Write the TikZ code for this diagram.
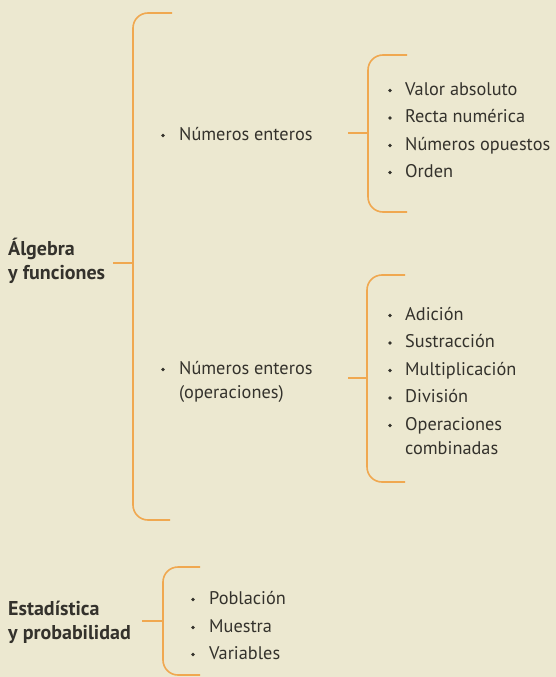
\documentclass[tikz,border=0pt]{standalone}
\usepackage{fontspec}
\setmainfont{PT Sans}
\definecolor{bg}{RGB}{236,232,208}
\definecolor{brk}{RGB}{240,168,80}
\definecolor{txt}{RGB}{52,50,44}
\tikzset{
  brace/.style={draw=brk,line width=1.6pt,rounded corners=15pt},
  tick/.style={draw=brk,line width=1.6pt},
  item/.style={anchor=base west,inner sep=0pt,text=txt,font=\fontsize{18.3}{24.5}\selectfont},
  head/.style={anchor=base west,inner sep=0pt,text=txt,align=left,font=\bfseries\fontsize{20}{24}\selectfont},
  bul/.style={circle,fill=txt,inner sep=0pt,minimum size=3.6pt}
}
\begin{document}
\begin{tikzpicture}[x=1pt,y=-1pt]
\fill[bg] (0,0) rectangle (556,677);
\useasboundingbox (0,0) rectangle (556,677);

% headings (anchor = baseline of last line)
\node[head] (alg) at (8,279) {Álgebra\\y funciones};
\node[head] (est) at (8,639) {Estadística\\y probabilidad};

% main bracket
\coordinate (b1t) at (172,13);
\coordinate (b1b) at (170,520);
\coordinate (b1m) at (133,263);
\coordinate (b1k) at (113,263);
\draw[brace] (b1t) -- (133,13) -- (133,520) -- (b1b);
\draw[tick] (b1k) -- (b1m);

% second level items
\node[bul] (d1) at (163,135.5) {};
\node[item] (ne) at (179,140) {Números enteros};
\node[bul] (d2) at (163,369.5) {};
\node[item,align=left] (neo) at (179,398.5) {Números enteros\\(operaciones)};

% bracket for Numeros enteros
\coordinate (b2t) at (407,55);
\coordinate (b2b) at (407,212);
\coordinate (b2m) at (368,133);
\coordinate (b2k) at (348,133);
\draw[brace] (b2t) -- (368,55) -- (368,212) -- (b2b);
\draw[tick] (b2k) -- (b2m);

% bracket for operaciones
\coordinate (b3t) at (405,275);
\coordinate (b3b) at (405,482);
\coordinate (b3m) at (367,378);
\coordinate (b3k) at (348,378);
\draw[brace] (b3t) -- (367,275) -- (367,482) -- (b3b);
\draw[tick] (b3k) -- (b3m);

% bracket for estadistica
\coordinate (b4t) at (200,567);
\coordinate (b4b) at (200,675);
\coordinate (b4m) at (163,621);
\coordinate (b4k) at (142,621);
\draw[brace] (b4t) -- (163,567) -- (163,675) -- (b4b);
\draw[tick] (b4k) -- (b4m);

% list 1
\foreach \n/\y/\t in {a1/95/Valor absoluto, a2/122.5/Recta numérica, a3/150/Números opuestos, a4/177/Orden}{
  \node[bul] (\n d) at (390,\y-4.5) {};
  \node[item] (\n) at (405,\y) {\t};
}
% list 2
\foreach \n/\y/\t in {c1/320/Adición, c2/347.5/Sustracción, c3/375/Multiplicación, c4/402.5/División}{
  \node[bul] (\n d) at (390,\y-4.5) {};
  \node[item] (\n) at (405,\y) {\t};
}
\node[bul] (c5d) at (390,425.5) {};
\node[item,align=left] (c5) at (405,454.5) {Operaciones\\combinadas};
% list 3
\foreach \n/\y/\t in {e1/604/Población, e2/632/Muestra, e3/659/Variables}{
  \node[bul] (\n d) at (193,\y-4.5) {};
  \node[item] (\n) at (209,\y) {\t};
}
\end{tikzpicture}
\end{document}
